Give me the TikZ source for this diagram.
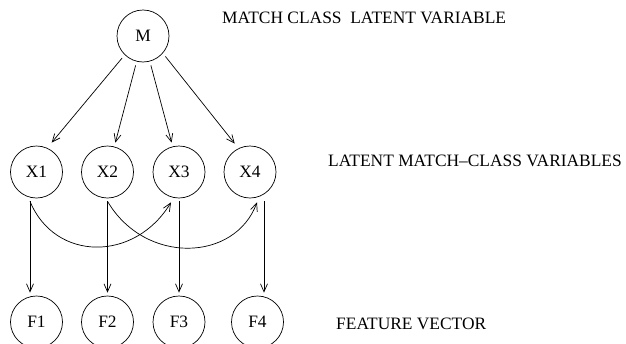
\documentclass[tikz,border=0pt]{standalone}
\usepackage{fontspec}
\setmainfont{Liberation Serif}
\usetikzlibrary{arrows.meta}
\begin{document}
\begin{tikzpicture}[x=1pt,y=-1pt,
  var/.style={circle,draw,line width=0.7pt,minimum size=52pt,inner sep=0pt,font=\fontsize{17.4}{20}\selectfont},
  lbl/.style={anchor=base west,inner sep=0pt,font=\fontsize{17.4}{20}\selectfont},
  arr/.style={line width=0.7pt,-{Straight Barb[length=8pt,width=7pt]}}]
\clip (0,0) rectangle (626,343);
\node[var] (M) at (143,36) {M};
\node[var] (X1) at (36.5,172) {X1};
\node[var] (X2) at (107.5,172) {X2};
\node[var] (X3) at (179,172) {X3};
\node[var] (X4) at (250,172) {X4};
\node[var] (F1) at (36.5,322) {F1};
\node[var] (F2) at (107.5,322) {F2};
\node[var] (F3) at (179,322) {F3};
\node[var] (F4) at (257.5,322) {F4};
\node[lbl] (t1) at (222,23) {MATCH CLASS\ \ LATENT VARIABLE};
\node[lbl] (t2) at (328,166) {LATENT MATCH--CLASS VARIABLES};
\node[lbl] (t3) at (336,329) {FEATURE VECTOR};
% M to X
\draw[arr,shorten <=4pt,shorten >=7pt] (M.226) -- (X1.66);
\draw[arr,shorten <=4pt,shorten >=4pt] (M.256) -- (X2.75);
\draw[arr,shorten <=4pt,shorten >=4pt] (M.285) -- (X3.104);
\draw[arr,shorten <=4pt,shorten >=6pt] (M.319) -- (X4.116);
% X to F
\draw[arr] ([xshift=-6.5pt,yshift=-3pt]X1.south) -- ([xshift=-6.5pt,yshift=3pt]F1.north);
\draw[arr] ([yshift=-3pt]X2.south) -- ([yshift=3pt]F2.north);
\draw[arr] ([yshift=-3pt]X3.south) -- ([yshift=3pt]F3.north);
\draw[arr] ([xshift=14pt,yshift=-3pt]X4.south) -- ([xshift=6.5pt,yshift=3pt]F4.north);
% cross curves
\draw[arr] ([xshift=-6.5pt,yshift=-3pt]X1.south) .. controls (55,262) and (135,262) .. ([xshift=-8pt,yshift=-4pt]X3.south);
\draw[arr] ([yshift=-3pt]X2.south) .. controls (145,265) and (235,262) .. ([xshift=7pt,yshift=-4pt]X4.south);
\end{tikzpicture}
\end{document}
